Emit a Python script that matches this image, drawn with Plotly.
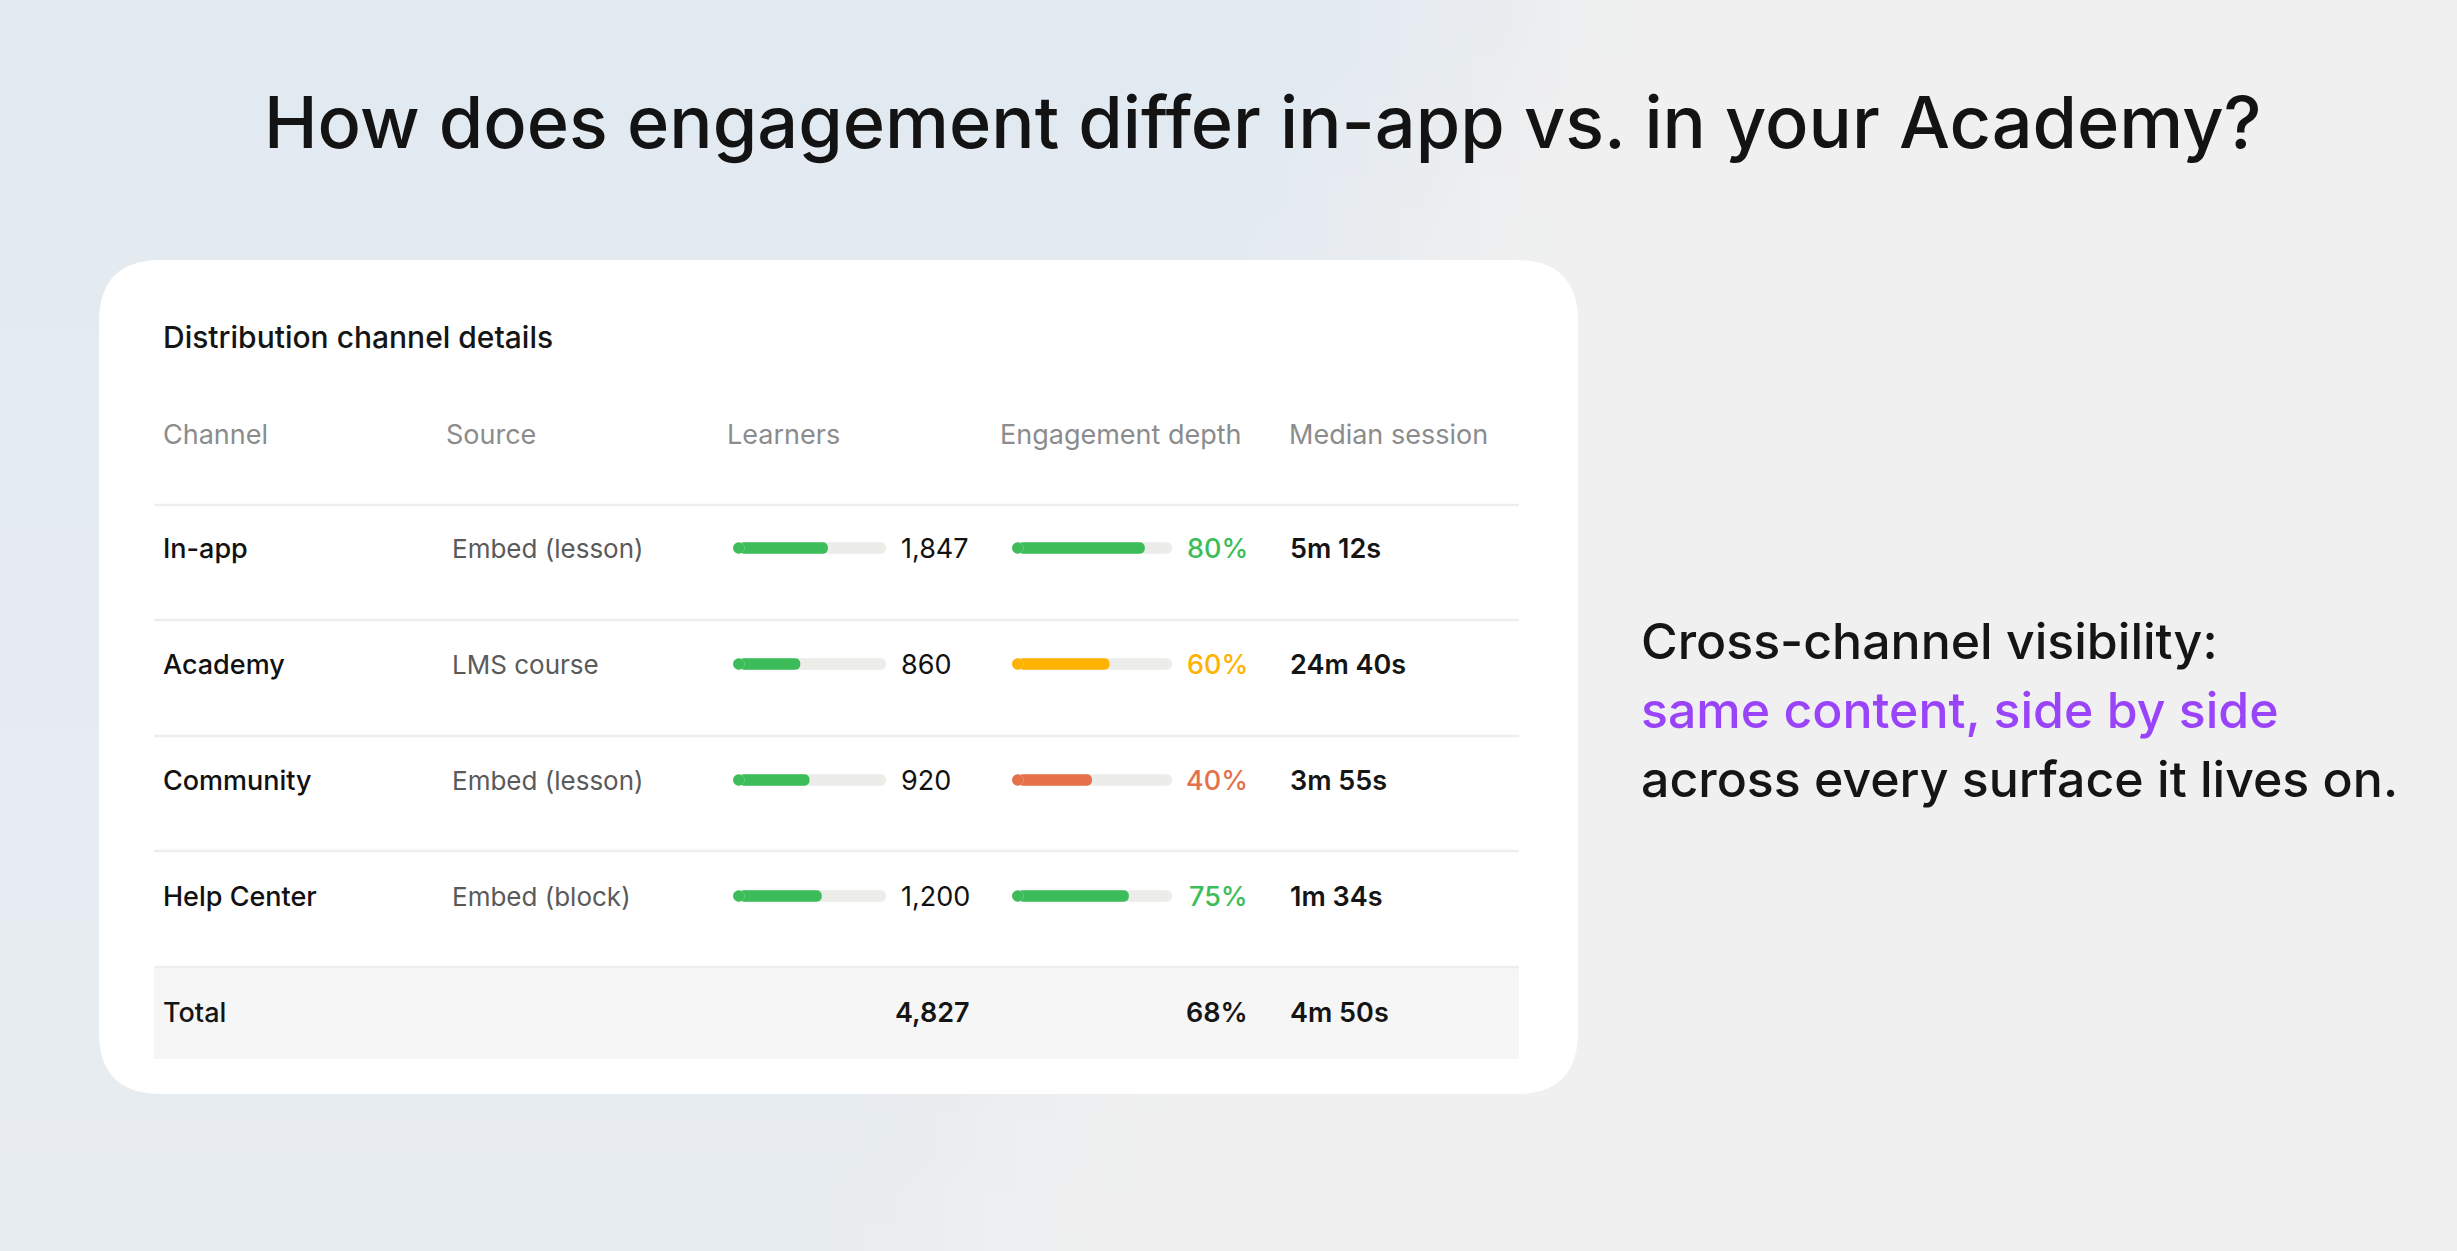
import base64
import struct
import zlib

import plotly.graph_objects as go

# Table data
channels = ['In-app', 'Academy', 'Community', 'Help Center']
sources = ['Embed (lesson)', 'LMS course', 'Embed (lesson)', 'Embed (block)']
learners = [1847, 860, 920, 1200]
learner_bar = [62, 44, 50, 58]          # share of the track filled, as drawn
depth = [80, 60, 40, 75]
depth_bar = [83, 61, 50, 73]            # share of the track filled, as drawn
depth_colors = ['#3dbd5a', '#ffb200', '#e5714b', '#3dbd5a']
median_session = ['5m 12s', '24m 40s', '3m 55s', '1m 34s']
headers = ['Channel', 'Source', 'Learners', 'Engagement depth', 'Median session']
total_learners = 4827
total_depth = 68
total_median = '4m 50s'

W, H = 2457, 1251
FONT = 'Inter'
ROW0, ROWH = 548, 116   # pixel centre of first row and row pitch
BAR_PX = 11.5           # bar thickness in pixels


def ry(p):
    # pixel row -> row units of the y axis
    return (p - ROW0) / ROWH


def gradient_png(w, h):
    blue, grey = (226, 234, 241), (240, 240, 240)
    rows = []
    for j in range(h):
        v = j / (h - 1)
        row = bytearray([0])
        for i in range(w):
            u = i / (w - 1)
            edge = 0.66 - 0.22 * v
            t = min(1.0, max(0.0, (edge - u) / 0.12)) * (1 - 0.45 * v)
            row += bytes(int(round(g + (b - g) * t)) for b, g in zip(blue, grey))
        rows.append(bytes(row))

    def chunk(tag, data):
        return struct.pack('>I', len(data)) + tag + data + struct.pack('>I', zlib.crc32(tag + data) & 0xffffffff)

    png = (b'\x89PNG\r\n\x1a\n'
           + chunk(b'IHDR', struct.pack('>IIBBBBB', w, h, 8, 2, 0, 0, 0))
           + chunk(b'IDAT', zlib.compress(b''.join(rows)))
           + chunk(b'IEND', b''))
    return 'data:image/png;base64,' + base64.b64encode(png).decode()


rows = list(range(len(channels)))
fig = go.Figure()


def rounded_bar(values, color, axis, track_px):
    # bar rounds its far end; a dot gives the rounded start
    cap = 100 * (BAR_PX / 2) / track_px
    fig.add_trace(go.Bar(
        y=rows, x=[v - cap for v in values], base=[cap] * len(values),
        orientation='h', width=BAR_PX / ROWH, marker=dict(color=color, cornerradius=6, line_width=0),
        xaxis=axis, yaxis='y', hoverinfo='skip', showlegend=False))
    fig.add_trace(go.Scatter(
        y=rows, x=[cap] * len(values), mode='markers',
        marker=dict(color=color, size=BAR_PX, line_width=0),
        xaxis=axis, yaxis='y', hoverinfo='skip', showlegend=False))


rounded_bar([100] * 4, '#ecece9', 'x2', 153)
rounded_bar(learner_bar, '#3dbd5a', 'x2', 153)
rounded_bar([100] * 4, '#ecece9', 'x3', 160)
rounded_bar(depth_bar, depth_colors, 'x3', 160)

ann = []


def txt(x, y, s, size=27, color='#151515', weight=400, anchor='left', ref=('x', 'y')):
    ann.append(dict(x=x, y=y, xref=ref[0], yref=ref[1], text=s, showarrow=False,
                    xanchor=anchor, yanchor='middle',
                    font=dict(family=FONT, size=size, color=color, weight=weight)))


# headings
txt(0.514, 1 - 121 / H, 'How does engagement differ in-app vs. in your Academy?',
    size=72, color='#131313', weight=500, anchor='center', ref=('paper', 'paper'))
txt(161, ry(337), 'Distribution channel details', size=30, weight=500)

col_x = [161, 444, 725, 998, 1287]
for cx, h in zip(col_x, headers):
    txt(cx, ry(434), h, size=27, color='#8c8c8c')

for i in rows:
    txt(161, i, channels[i], color='#111111', weight=500)
    txt(450, i, sources[i], size=26, color='#5a5a5a')
    txt(899, i, f'{learners[i]:,}', color='#111111')
    txt(1250, i, f'{depth[i]}%', color=depth_colors[i], weight=500, anchor='right')
    txt(1288, i, median_session[i], weight=600)

txt(161, 4, 'Total', weight=500)
txt(972, 4, f'{total_learners:,}', weight=600, anchor='right')
txt(1250, 4, f'{total_depth}%', weight=600, anchor='right')
txt(1288, 4, total_median, weight=600)

# right-hand message
for k, (s, c) in enumerate([('Cross-channel visibility:', '#151515'),
                            ('same content, side by side', '#9a44fa'),
                            ('across every surface it lives on.', '#151515')]):
    txt(1639, 1 - (641 + 69 * k) / H, s, size=50, color=c, weight=500, ref=('x', 'paper'))

# card, total band and row dividers
x0, x1, y0, y1, r = 99, 1578, ry(260), ry(1094), 62
rr = r / ROWH
card = (f'M {x0 + r},{y0} L {x1 - r},{y0} Q {x1},{y0} {x1},{y0 + rr} L {x1},{y1 - rr} '
        f'Q {x1},{y1} {x1 - r},{y1} L {x0 + r},{y1} Q {x0},{y1} {x0},{y1 - rr} '
        f'L {x0},{y0 + rr} Q {x0},{y0} {x0 + r},{y0} Z')
shapes = [dict(type='path', path=card, xref='x', yref='y', fillcolor='white', line_width=0, layer='below'),
          dict(type='rect', x0=154, x1=1519, y0=ry(967), y1=ry(1059), xref='x', yref='y',
               fillcolor='#f6f6f6', line_width=0, layer='below')]
for p in (505, 620, 736, 851, 967):
    shapes.append(dict(type='line', x0=154, x1=1519, y0=ry(p), y1=ry(p), xref='x', yref='y',
                       line=dict(color='#eeeeee', width=2.5), layer='below'))

hidden = dict(visible=False, showgrid=False, zeroline=False, fixedrange=True)
fig.update_layout(
    width=W, height=H, margin=dict(l=0, r=0, t=0, b=0),
    paper_bgcolor='#f0f0f0', plot_bgcolor='rgba(0,0,0,0)',
    barmode='overlay', showlegend=False,
    xaxis=dict(domain=[0, 1], range=[0, W], **hidden),
    xaxis2=dict(domain=[733 / W, 886 / W], range=[0, 100], anchor='y', **hidden),
    xaxis3=dict(domain=[1012 / W, 1172 / W], range=[0, 100], anchor='y', **hidden),
    yaxis=dict(domain=[0, 1], range=[ry(H), ry(0)], **hidden),
    annotations=ann, shapes=shapes,
    images=[dict(source=gradient_png(64, 32), xref='paper', yref='paper', x=0, y=1,
                 sizex=1, sizey=1, xanchor='left', yanchor='top', sizing='stretch', layer='below')],
)

fig.write_html('out.html', config={'displayModeBar': False},
               post_script="document.body.style.margin='0';")
